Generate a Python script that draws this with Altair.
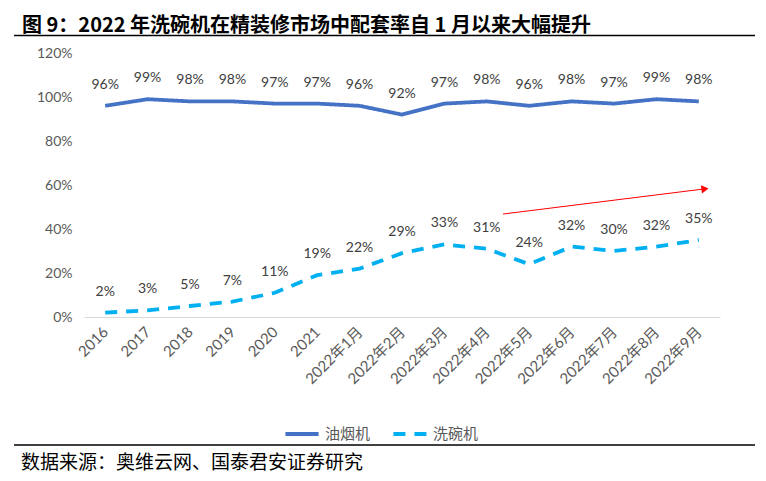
import altair as alt
import pandas as pd

categories = ["2016", "2017", "2018", "2019", "2020", "2021",
              "2022年1月", "2022年2月", "2022年3月", "2022年4月", "2022年5月",
              "2022年6月", "2022年7月", "2022年8月", "2022年9月"]
series_names = ["油烟机", "洗碗机"]
range_hood = [0.96, 0.99, 0.98, 0.98, 0.97, 0.97, 0.96, 0.92, 0.97, 0.98, 0.96, 0.98, 0.97, 0.99, 0.98]
dishwasher = [0.02, 0.03, 0.05, 0.07, 0.11, 0.19, 0.22, 0.29, 0.33, 0.31, 0.24, 0.32, 0.30, 0.32, 0.35]
y_ticks = [0, 0.2, 0.4, 0.6, 0.8, 1.0, 1.2]

title_text = "图 9：2022 年洗碗机在精装修市场中配套率自 1 月以来大幅提升"
source_text = "数据来源：奥维云网、国泰君安证券研究"

rows = []
for c, v in zip(categories, range_hood):
    rows.append({"cat": c, "series": series_names[0], "value": v})
for c, v in zip(categories, dishwasher):
    rows.append({"cat": c, "series": series_names[1], "value": v})
df = pd.DataFrame(rows)

W, H = 636, 264
NUM_FONT = "Lato, Noto Sans CJK SC"
CJK_FONT = "Noto Sans CJK SC"

x_enc = alt.X("cat:N", sort=categories, scale=alt.Scale(paddingInner=0, paddingOuter=0),
              axis=alt.Axis(title=None, labelAngle=-45, labelAlign="right", labelBaseline="middle",
                            labelPadding=12, ticks=False, domainColor="#D9D9D9", domainWidth=1,
                            labelColor="#595959", labelFontSize=15, labelFont=NUM_FONT, grid=False))
y_enc = alt.Y("value:Q", scale=alt.Scale(domain=[0, 1.2]),
              axis=alt.Axis(title=None, values=y_ticks, format=".0%", grid=False, domain=False,
                            ticks=False, labelPadding=12, labelColor="#595959", labelFontSize=14,
                            labelFont=NUM_FONT))

base = alt.Chart(df)

lines = base.mark_line(strokeWidth=3.8).encode(
    x=x_enc,
    y=y_enc,
    color=alt.Color("series:N", scale=alt.Scale(domain=series_names, range=["#4472C4", "#00B0F0"]),
                    legend=alt.Legend(title=None, orient="none", legendX=199, legendY=362,
                                      direction="horizontal", symbolType="stroke", symbolSize=1100,
                                      symbolStrokeWidth=4, labelFontSize=15, labelFont=CJK_FONT,
                                      labelColor="#595959", columnPadding=14, labelOffset=4)),
    strokeDash=alt.StrokeDash("series:N", scale=alt.Scale(domain=series_names, range=[[1, 0], [12, 9]]),
                              legend=None),
)

labels = base.mark_text(dy=-21, baseline="middle", fontSize=14, font=NUM_FONT, color="#404040").encode(
    x=alt.X("cat:N", sort=categories),
    y=alt.Y("value:Q"),
    text=alt.Text("value:Q", format=".0%"),
    detail="series:N",
)

# Red trend arrow (annotation)
arrow_df = pd.DataFrame({"y1": [0.468], "y2": [0.582]})
arrow_line = alt.Chart(arrow_df).mark_rule(color="#FF0000", strokeWidth=1).encode(
    x=alt.value(419), x2=alt.value(620), y="y1:Q", y2="y2:Q")
arrow_head = alt.Chart(arrow_df).mark_point(shape="triangle-right", filled=True, color="#FF0000",
                                            size=70, angle=353, opacity=1).encode(
    x=alt.value(621), y="y2:Q")

# Title, rules and source (decorations)
title = alt.Chart(pd.DataFrame({"t": [title_text]})).mark_text(
    align="left", baseline="alphabetic", fontSize=20, fontWeight="bold", font=CJK_FONT, color="#000000"
).encode(x=alt.value(-62), y=alt.value(-21.5), text="t:N")
top_rule = alt.Chart(pd.DataFrame({"a": [0]})).mark_rule(color="#000000", strokeWidth=1.5).encode(
    x=alt.value(-70), x2=alt.value(671), y=alt.value(-17.5))
bottom_rule = alt.Chart(pd.DataFrame({"a": [0]})).mark_rule(color="#000000", strokeWidth=1.5).encode(
    x=alt.value(-70), x2=alt.value(671), y=alt.value(392))
source = alt.Chart(pd.DataFrame({"t": [source_text]})).mark_text(
    align="left", baseline="middle", fontSize=19, font=CJK_FONT, color="#000000"
).encode(x=alt.value(-63), y=alt.value(410), text="t:N")

chart = alt.layer(lines, labels, arrow_line, arrow_head, title, top_rule, bottom_rule, source).properties(
    width=W, height=H,
    autosize=alt.AutoSizeParams(type="none"),
    padding={"left": 76, "top": 45, "right": 38, "bottom": 156},
).configure_view(stroke=None)

chart.save("out.html", embed_options={"renderer": "svg", "actions": False})
